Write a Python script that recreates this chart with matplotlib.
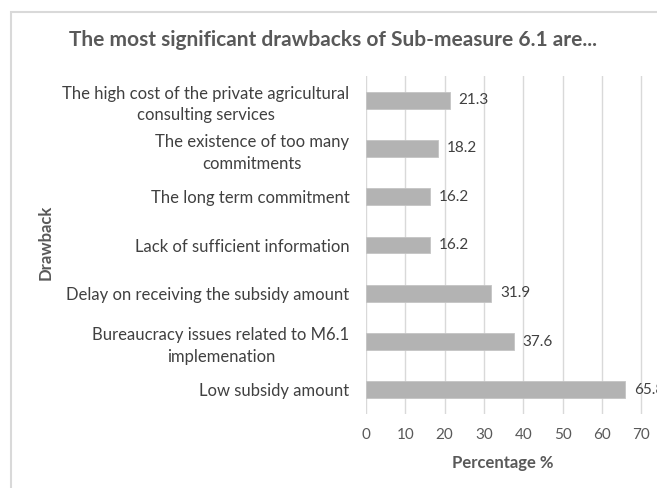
import matplotlib
matplotlib.use("Agg")
import matplotlib.pyplot as plt
from matplotlib.patches import Rectangle

categories = [
    "The high cost of the private agricultural\nconsulting services",
    "The existence of too many\ncommitments",
    "The long term commitment",
    "Lack of sufficient information",
    "Delay on receiving the subsidy amount",
    "Bureaucracy issues related to M6.1\nimplemenation",
    "Low subsidy amount",
]
values = [21.3, 18.2, 16.2, 16.2, 31.9, 37.6, 65.8]
xticks = [0, 10, 20, 30, 40, 50, 60, 70]

FONT = "Lato"
TXT = "#595959"
W, H = 657, 488

fig = plt.figure(figsize=(W / 100, H / 100), dpi=100)
fig.patch.set_facecolor("white")

fig.patches.append(Rectangle((11 / W, -0.1), 2, 1 - 12 / H + 0.1,
                             transform=fig.transFigure, fill=False,
                             edgecolor="#d9d9d9", linewidth=1.5))

left, right = 366 / W, (366 + 80 * 3.93) / W
top, bottom = 1 - 76 / H, 1 - 414 / H
ax = fig.add_axes([left, bottom, right - left, top - bottom])

ypos = list(range(len(categories)))
ax.barh(ypos, values, height=0.35, color="#b3b3b3", edgecolor="#c4c4c4", linewidth=0.6, zorder=3)
for y, v in zip(ypos, values):
    ax.text(v + 2.3, y, f"{v}", va="center", ha="left", fontsize=11,
            color="#404040", family=FONT)

ax.set_xlim(0, 80)
ax.set_ylim(len(categories) - 0.5, -0.5)
ax.set_xticks(xticks)
ax.set_xticklabels([str(t) for t in xticks], family=FONT, fontsize=11, color=TXT)
ax.set_yticks(ypos)
ax.set_yticklabels(categories, family=FONT, fontsize=12, color="#404040",
                   multialignment="center", linespacing=1.45)
ax.tick_params(axis="both", length=0)
ax.tick_params(axis="y", pad=12)
ax.tick_params(axis="x", pad=10)
ax.grid(axis="x", color="#d9d9d9", linewidth=1, zorder=0)
for s in ax.spines.values():
    s.set_visible(False)

fig.text(333 / W, 1 - 40 / H, "The most significant drawbacks of Sub-measure 6.1 are...",
         ha="center", va="center", fontsize=15, fontweight="bold", color=TXT, family=FONT)
fig.text(46 / W, 1 - 242 / H, "Drawback", rotation=90, ha="center", va="center",
         fontsize=12, fontweight="bold", color=TXT, family=FONT)
fig.text(503 / W, 1 - 463 / H, "Percentage %", ha="center", va="center",
         fontsize=12, fontweight="bold", color=TXT, family=FONT)

fig.savefig("out.png", dpi=100)
